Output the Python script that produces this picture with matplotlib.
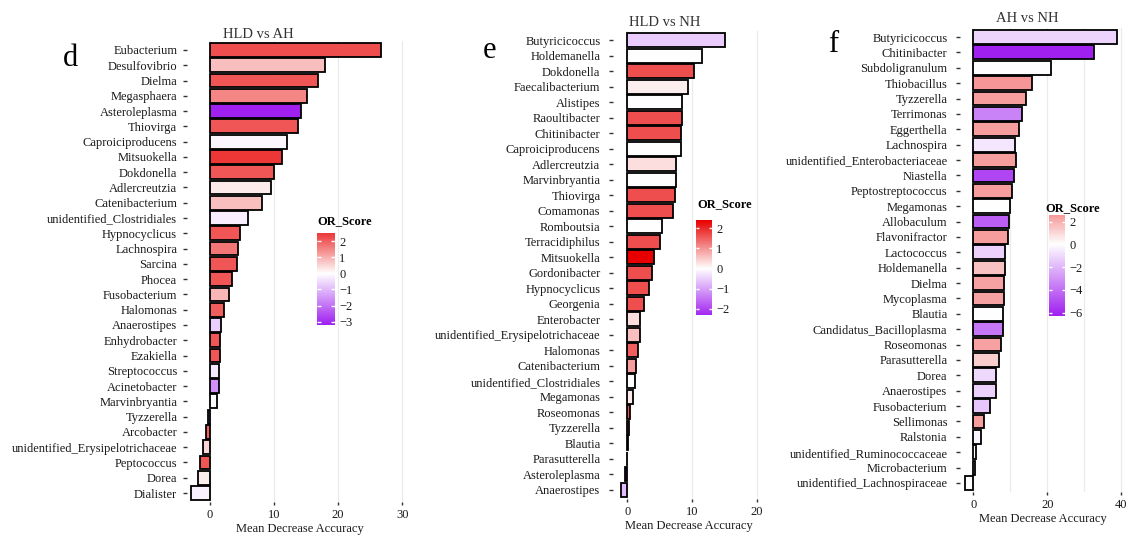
import matplotlib.pyplot as plt
import numpy as np
from matplotlib.colors import LinearSegmentedColormap, Normalize

plt.rcParams["font.family"] = ["Liberation Serif", "DejaVu Serif"]

W, H = 1126, 536

# d: HLD vs AH
d_taxa = ["Eubacterium", "Desulfovibrio", "Dielma", "Megasphaera", "Asteroleplasma", "Thiovirga",
          "Caproiciproducens", "Mitsuokella", "Dokdonella", "Adlercreutzia", "Catenibacterium",
          "unidentified_Clostridiales", "Hypnocyclicus", "Lachnospira", "Sarcina", "Phocea",
          "Fusobacterium", "Halomonas", "Anaerostipes", "Enhydrobacter", "Ezakiella", "Streptococcus",
          "Acinetobacter", "Marvinbryantia", "Tyzzerella", "Arcobacter",
          "unidentified_Erysipelotrichaceae", "Peptococcus", "Dorea", "Dialister"]
d_mda = [26.7, 18.0, 16.9, 15.1, 14.3, 13.7, 12.1, 11.2, 10.1, 9.5, 8.1, 6.0, 4.7, 4.5, 4.3,
         3.5, 3.1, 2.3, 1.8, 1.6, 1.6, 1.5, 1.4, 1.1, -0.2, -0.55, -1.05, -1.5, -1.85, -2.9]
d_or = [2.2, 0.8, 2.1, 1.5, -3.2, 2.1, -0.15, 2.5, 2.1, 0.25, 0.8, -0.25, 2.1, 1.7, 2.1,
        2.1, 0.9, 2.0, -0.7, 2.1, 2.1, -0.3, -1.6, 0.0, -1.5, 2.0, 0.5, 2.1, 0.2, -0.2]

# e: HLD vs NH
e_taxa = ["Butyricicoccus", "Holdemanella", "Dokdonella", "Faecalibacterium", "Alistipes",
          "Raoultibacter", "Chitinibacter", "Caproiciproducens", "Adlercreutzia", "Marvinbryantia",
          "Thiovirga", "Comamonas", "Romboutsia", "Terracidiphilus", "Mitsuokella", "Gordonibacter",
          "Hypnocyclicus", "Georgenia", "Enterobacter", "unidentified_Erysipelotrichaceae",
          "Halomonas", "Catenibacterium", "unidentified_Clostridiales", "Megamonas", "Roseomonas",
          "Tyzzerella", "Blautia", "Parasutterella", "Asteroleplasma", "Anaerostipes"]
e_mda = [15.1, 11.5, 10.3, 9.4, 8.5, 8.4, 8.3, 8.25, 7.6, 7.6, 7.3, 7.1, 5.4, 5.05, 4.2,
         3.8, 3.4, 2.6, 1.9, 1.9, 1.6, 1.35, 1.2, 0.95, 0.4, 0.25, 0.05, -0.1, -0.35, -1.0]
e_or = [-0.55, 0.0, 1.65, 0.15, 0.0, 1.65, 1.65, 0.0, 0.3, 0.0, 1.65, 1.65, 0.0, 1.65, 2.4,
        1.65, 1.65, 1.65, 0.3, 0.6, 1.5, 0.9, 0.0, 0.2, 1.65, 1.65, 0.0, 0.0, -2.3, -0.7]

# f: AH vs NH
f_taxa = ["Butyricicoccus", "Chitinibacter", "Subdoligranulum", "Thiobacillus", "Tyzzerella",
          "Terrimonas", "Eggerthella", "Lachnospira", "unidentified_Enterobacteriaceae", "Niastella",
          "Peptostreptococcus", "Megamonas", "Allobaculum", "Flavonifractor", "Lactococcus",
          "Holdemanella", "Dielma", "Mycoplasma", "Blautia", "Candidatus_Bacilloplasma",
          "Roseomonas", "Parasutterella", "Dorea", "Anaerostipes", "Fusobacterium", "Sellimonas",
          "Ralstonia", "unidentified_Ruminococcaceae", "Microbacterium",
          "unidentified_Lachnospiraceae"]
f_mda = [38.8, 32.5, 21.1, 15.9, 14.2, 13.2, 12.3, 11.4, 11.5, 10.9, 10.5, 10.0, 9.7, 9.5, 8.6,
         8.5, 8.2, 8.2, 8.1, 7.9, 7.6, 7.0, 6.1, 6.2, 4.6, 2.8, 2.2, 0.7, 0.35, -2.3]
f_or = [-1.2, -6.3, 0.0, 2.6, 2.4, -3.5, 2.4, -0.7, 2.4, -5.2, 2.4, 0.0, -4.5, 2.4, -1.3,
        1.5, 2.3, 2.3, 0.0, -3.8, 2.3, 1.2, -1.1, -1.3, -1.6, 2.4, -0.3, 0.0, 0.0, 0.0]

cmap = LinearSegmentedColormap.from_list("or_score", ["#A020F0", "#FFFFFF", "#E80000"])


def px_box(x0, y0, x1, y1):
    return [x0 / W, 1 - y1 / H, (x1 - x0) / W, (y1 - y0) / H]


def fig_text(fig, x, y, s, **kw):
    fig.text(x / W, 1 - y / H, s, **kw)


def draw_panel(fig, box, taxa, mda, score, xlim, major, minor, ypad):
    ax = fig.add_axes(px_box(*box))
    lim = max(abs(min(score)), abs(max(score)))
    norm = Normalize(-lim, lim)
    pos = np.arange(len(taxa))
    ax.barh(pos, mda, height=0.9, color=cmap(norm(np.array(score))),
            edgecolor="black", linewidth=1.3, zorder=3)
    ax.set_xlim(*xlim)
    ax.set_ylim(len(taxa) - 0.4, -0.6)
    ax.set_yticks(pos)
    ax.set_yticklabels(taxa)
    ax.set_xticks(major)
    ax.set_xticks(minor, minor=True)
    ax.grid(axis="x", which="both", color="#ebebeb", linewidth=0.9, zorder=0)
    ax.tick_params(axis="y", length=3, width=1, color="#333333", pad=ypad,
                   labelsize=9, labelcolor="#1a1a1a")
    ax.tick_params(axis="x", length=2.5, width=1, color="#333333", pad=2.5,
                   labelsize=9, labelcolor="#1a1a1a")
    ax.tick_params(axis="x", which="minor", length=0)
    for s in ax.spines.values():
        s.set_visible(False)
    ax.set_xlabel("Mean Decrease Accuracy", fontsize=9, labelpad=1, color="#1a1a1a")
    return lim


def draw_colorbar(fig, box, score, lim, ticks, title_xy):
    cax = fig.add_axes(px_box(*box))
    lo, hi = min(score), max(score)
    vals = np.linspace(lo, hi, 200)[:, None]
    cax.imshow(vals, extent=[0, 1, lo, hi], origin="lower", aspect="auto",
               cmap=cmap, norm=Normalize(-lim, lim))
    cax.hlines(ticks, 0, 0.2, color="white", linewidth=1)
    cax.hlines(ticks, 0.8, 1, color="white", linewidth=1)
    cax.set_xlim(0, 1)
    cax.set_ylim(lo, hi)
    cax.set_xticks([])
    cax.yaxis.tick_right()
    cax.set_yticks(ticks)
    cax.set_yticklabels([str(t).replace("-", "\u2212") for t in ticks])
    cax.tick_params(axis="y", length=0, pad=3, labelsize=9, labelcolor="#1a1a1a")
    for s in cax.spines.values():
        s.set_visible(False)
    fig_text(fig, title_xy[0], title_xy[1], "OR_Score", fontsize=9, fontweight="bold",
             ha="left", va="center")


fig = plt.figure(figsize=(W / 100, H / 100), dpi=100)

lim_d = draw_panel(fig, (187, 40.8, 412, 502.2), d_taxa, d_mda, d_or,
                   (-3.5, 31.5), [0, 10, 20, 30], [], 4)
lim_e = draw_panel(fig, (613, 30.7, 765, 499.3), e_taxa, e_mda, e_or,
                   (-2.21, 21.28), [0, 10, 20], [], 6)
lim_f = draw_panel(fig, (960, 27.8, 1126, 492.2), f_taxa, f_mda, f_or,
                   (-3.6, 41.27), [0, 20, 40], [10, 30], 6)

draw_colorbar(fig, (317, 233, 335, 325), d_or, lim_d, [2, 1, 0, -1, -2, -3], (317, 221))
draw_colorbar(fig, (696, 220, 712, 315), e_or, lim_e, [2, 1, 0, -1, -2], (697, 204))
draw_colorbar(fig, (1049, 215, 1065, 316), f_or, lim_f, [2, 0, -2, -4, -6], (1045, 208))

fig_text(fig, 258, 35, "HLD vs AH", fontsize=10.5, ha="center", va="center", color="#333333")
fig_text(fig, 665, 22, "HLD vs NH", fontsize=10.5, ha="center", va="center", color="#333333")
fig_text(fig, 1027, 18, "AH vs NH", fontsize=10.5, ha="center", va="center", color="#333333")

fig_text(fig, 70, 58, "d", fontsize=22, ha="center", va="center")
fig_text(fig, 490, 50, "e", fontsize=22, ha="center", va="center")
fig_text(fig, 833, 45, "f", fontsize=22, ha="center", va="center")

fig.savefig("out.png", dpi=100)
